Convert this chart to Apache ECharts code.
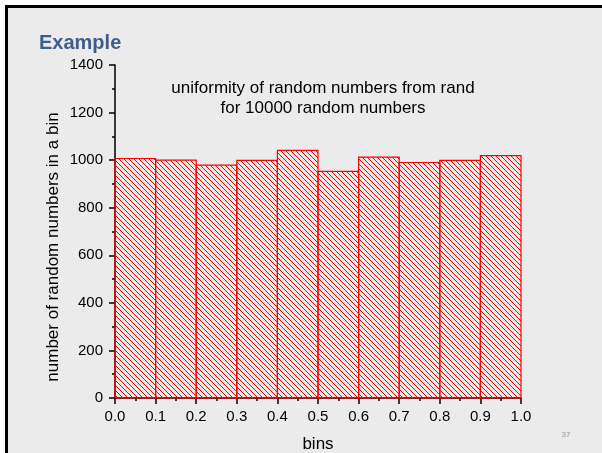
<!DOCTYPE html>
<html>
<head>
<meta charset="utf-8">
<script src="https://cdn.jsdelivr.net/npm/echarts@6/dist/echarts.min.js"></script>
<style>
html,body{margin:0;padding:0;background:#ffffff;}
#frame{position:absolute;left:5px;top:5px;width:597px;height:448px;border-top:3px solid #000;border-left:3px solid #000;background:#ebebeb;box-sizing:border-box;}
#chart{position:absolute;left:0;top:0;width:602px;height:453px;}
</style>
</head>
<body>
<div id="frame"></div>
<div id="chart"></div>
<script>
// Data
const binStarts = [0.0, 0.1, 0.2, 0.3, 0.4, 0.5, 0.6, 0.7, 0.8, 0.9];
const binEnds   = [0.1, 0.2, 0.3, 0.4, 0.5, 0.6, 0.7, 0.8, 0.9, 1.0];
const counts    = [1007, 1000, 979, 999, 1041, 953, 1013, 990, 999, 1019];
const titleLines = ['uniformity of random numbers from rand', 'for 10000 random numbers'];
const yAxisTitle = 'number of random numbers in a bin';

const FONT = '"Liberation Sans", Arial, sans-serif';

// hatch pattern
const tile = document.createElement('canvas');
const S = 5;
tile.width = S; tile.height = S;
const tc = tile.getContext('2d');
tc.strokeStyle = '#ff0000';
tc.lineWidth = 1;
tc.beginPath();
tc.moveTo(-1, -1); tc.lineTo(S + 1, S + 1);
tc.moveTo(-1 - S, -1); tc.lineTo(1, S + 1);
tc.moveTo(S - 1, -1); tc.lineTo(2 * S + 1, S + 1);
tc.stroke();

const data = binStarts.map((s, i) => [s, binEnds[i], counts[i]]);

const chart = echarts.init(document.getElementById('chart'), null, {renderer: 'canvas'});
chart.setOption({
  backgroundColor: 'transparent',
  animation: false,
  grid: {left: 115, top: 65, width: 406, height: 333, containLabel: false, outerBoundsMode: 'none'},
  xAxis: {
    type: 'value', min: 0, max: 1, interval: 0.1,
    name: 'bins', nameLocation: 'middle', nameGap: 38,
    nameTextStyle: {fontFamily: FONT, fontSize: 17, color: '#000'},
    axisLine: {show: true, lineStyle: {color: '#000', width: 1.5}},
    axisTick: {show: true, length: 6, lineStyle: {color: '#000', width: 1.5}},
    minorTick: {show: true, splitNumber: 2, length: 3, lineStyle: {color: '#000', width: 1.5}},
    splitLine: {show: false},
    axisLabel: {fontFamily: FONT, fontSize: 15, color: '#000', margin: 11, formatter: v => v.toFixed(1)}
  },
  yAxis: {
    type: 'value', min: 0, max: 1400, interval: 200,
    axisLine: {show: true, lineStyle: {color: '#000', width: 1.5}},
    axisTick: {show: true, length: 6, lineStyle: {color: '#000', width: 1.5}},
    minorTick: {show: true, splitNumber: 2, length: 3, lineStyle: {color: '#000', width: 1.5}},
    splitLine: {show: false},
    axisLabel: {fontFamily: FONT, fontSize: 15, color: '#000', margin: 12, formatter: v => String(v)}
  },
  series: [{
    type: 'custom',
    data: data,
    encode: {x: [0, 1], y: 2},
    renderItem: function (params, api) {
      const p0 = api.coord([api.value(0), api.value(2)]);
      const p1 = api.coord([api.value(1), 0]);
      return {
        type: 'rect',
        shape: {x: p0[0], y: p0[1], width: p1[0] - p0[0], height: p1[1] - p0[1]},
        style: {fill: {image: tile, repeat: 'repeat'}, stroke: '#ff0000', lineWidth: 1.2}
      };
    }
  }],
  graphic: [
    {type: 'text', left: 39, top: 33, style: {text: 'Example', font: 'bold 20px ' + FONT, fill: '#3e5f8a'}},
    {type: 'text', x: 323, y: 88, style: {text: titleLines[0], font: '17px ' + FONT, fill: '#000', textAlign: 'center', textVerticalAlign: 'middle'}},
    {type: 'text', x: 323, y: 108, style: {text: titleLines[1], font: '17px ' + FONT, fill: '#000', textAlign: 'center', textVerticalAlign: 'middle'}},
    {type: 'text', x: 53, y: 247, rotation: Math.PI / 2, style: {text: yAxisTitle, font: '17px ' + FONT, fill: '#000', textAlign: 'center', textVerticalAlign: 'middle'}},
    {type: 'text', x: 566, y: 435, style: {text: '37', font: '8px ' + FONT, fill: '#999', textAlign: 'center', textVerticalAlign: 'middle'}}
  ]
});
</script>
</body>
</html>
